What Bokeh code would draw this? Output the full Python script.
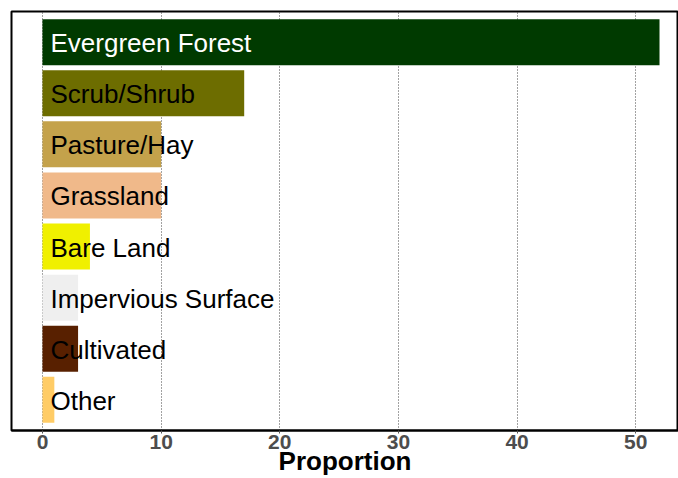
from bokeh.plotting import figure
from bokeh.models import ColumnDataSource, FactorRange, Range1d
from bokeh.embed import file_html
from bokeh.resources import INLINE

categories = ["Evergreen Forest", "Scrub/Shrub", "Pasture/Hay", "Grassland",
              "Bare Land", "Impervious Surface", "Cultivated", "Other"]
proportions = [52, 17, 10, 10, 4, 3, 3, 1]
bar_colors = ["#003a00", "#6d6d00", "#c4a24b", "#f0b98a",
              "#f0f000", "#efefef", "#582000", "#ffcc66"]
text_colors = ["white", "black", "black", "black", "black", "black", "black", "black"]
x_ticks = [0, 10, 20, 30, 40, 50]

src = ColumnDataSource(dict(cat=categories, val=proportions, col=bar_colors,
                            tcol=text_colors, zero=[0] * len(categories)))

p = figure(width=678, height=478, output_backend="svg", toolbar_location=None,
           y_range=FactorRange(factors=list(reversed(categories)),
                               range_padding=0.025, range_padding_units="percent"),
           x_range=Range1d(-2.61, 53.6),
           min_border_left=11, min_border_top=11, min_border_right=0,
           min_border_bottom=48)

p.hbar(y="cat", left="zero", right="val", height=0.9, fill_color="col",
       line_color=None, source=src)
p.text(x="zero", y="cat", text="cat", text_color="tcol", source=src,
       x_offset=8, y_offset=1, text_align="left", text_baseline="middle",
       text_font={"value": "Liberation Sans"}, text_font_size="26px")

p.yaxis.visible = False
p.ygrid.grid_line_color = None
p.xgrid.ticker = x_ticks
p.xgrid.grid_line_color = "#444444"
p.xgrid.grid_line_dash = "1 2"
p.xgrid.grid_line_width = 1

p.xaxis.ticker = x_ticks
p.xaxis.axis_label = "Proportion"
p.xaxis.axis_label_text_font = "Liberation Sans"
p.xaxis.axis_label_text_font_style = "bold"
p.xaxis.axis_label_text_font_size = "26px"
p.xaxis.axis_label_text_color = "black"
p.xaxis.axis_label_standoff = -6
p.xaxis.major_label_text_font = "Liberation Sans"
p.xaxis.major_label_text_font_style = "bold"
p.xaxis.major_label_text_font_size = "21px"
p.xaxis.major_label_text_color = "#4d4d4d"
p.xaxis.major_label_standoff = 1
p.xaxis.major_tick_in = 0
p.xaxis.major_tick_out = 3
p.xaxis.major_tick_line_color = "#555555"
p.xaxis.minor_tick_line_color = None
p.xaxis.axis_line_color = "black"
p.xaxis.axis_line_width = 2

p.outline_line_color = "black"
p.outline_line_width = 2
p.background_fill_color = "white"
p.border_fill_color = "white"

open("out.html", "w").write(file_html(p, INLINE))
